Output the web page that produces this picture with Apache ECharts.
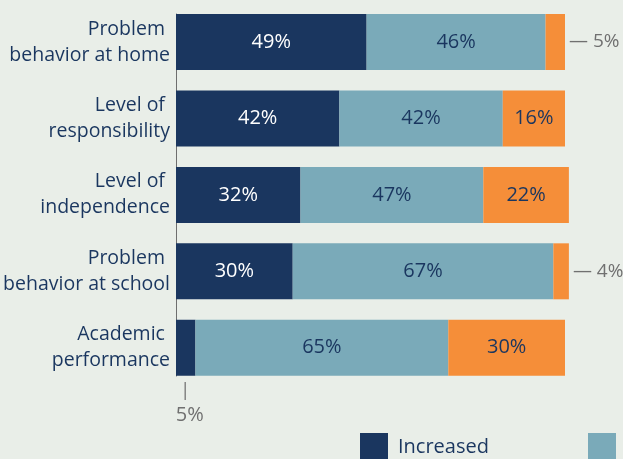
<!DOCTYPE html>
<html>
<head>
<meta charset="utf-8">
<script src="https://cdn.jsdelivr.net/npm/echarts@6/dist/echarts.min.js"></script>
<style>
  html, body { margin: 0; padding: 0; background: #e9eee8; }
  #chart { width: 623px; height: 459px; }
</style>
</head>
<body>
<div id="chart"></div>
<script>
// categories, top to bottom
const categories = [
  `Problem \nbehavior at home`,
  `Level of \nresponsibility`,
  `Level of \nindependence`,
  `Problem \nbehavior at school`,
  `Academic \nperformance`
];
const increased = [49, 42, 32, 30, 5];
const stayedSame = [46, 42, 47, 67, 65];
const decreased = [5, 16, 22, 4, 30];
const seriesNames = [`Increased`, `Stayed the same`, `Decreased`];

const navy = `#1a365f`;
const teal = `#7aaab9`;
const orange = `#f58e39`;
const grey = `#707070`;
const font = `"Open Sans", sans-serif`;

// small segments get their label outside the bar
function items(values, outside) {
  return values.map(function (v) {
    if (v >= 10) return v;
    return {value: v, label: outside};
  });
}

// one legend per item so each sits at its own place
const legendLeft = [360, 588, 816];
const legends = seriesNames.map(function (name, i) {
  return {
    data: [name],
    left: legendLeft[i],
    top: 433,
    padding: 0,
    icon: `rect`,
    itemWidth: 28,
    itemHeight: 28,
    textStyle: {color: navy, fontSize: 20, fontFamily: font, padding: [0, 0, 0, 5]}
  };
});

const chart = echarts.init(document.getElementById(`chart`));
const option = {
  backgroundColor: `#e9eee8`,
  animation: false,
  textStyle: {fontFamily: font},
  grid: [
    {left: 176, width: 389, top: 3.75, bottom: 73},
    // only there to draw the axis line between the bars
    {left: 176, width: 389, top: 14, height: 362}
  ],
  legend: legends,
  xAxis: [
    {type: `value`, min: 0, max: 100, show: false},
    {type: `value`, min: 0, max: 100, show: false, gridIndex: 1}
  ],
  yAxis: [
    {
      type: `category`,
      inverse: true,
      data: categories,
      axisLine: {show: false},
      axisTick: {show: false},
      axisLabel: {
        color: navy,
        fontSize: 19.5,
        fontFamily: font,
        lineHeight: 26,
        align: `right`,
        margin: 6
      }
    },
    {
      type: `category`,
      gridIndex: 1,
      inverse: true,
      data: categories,
      axisLine: {show: true, lineStyle: {color: `#6e6e6e`, width: 1}},
      axisTick: {show: false},
      axisLabel: {show: false}
    }
  ],
  series: [
    {
      name: seriesNames[0],
      type: `bar`,
      stack: `total`,
      barWidth: 56,
      clip: false,
      itemStyle: {color: navy},
      label: {show: true, position: `inside`, formatter: `{c}%`, color: `#ffffff`, fontSize: 20, fontFamily: font},
      data: items(increased, {
        show: true,
        position: `bottom`,
        distance: 6,
        offset: [4, 0],
        formatter: `{t||}\n{v|{c}%}`,
        rich: {
          t: {color: grey, fontSize: 18, lineHeight: 18, padding: [0, 9, 0, 0], fontFamily: font},
          v: {color: grey, fontSize: 20, lineHeight: 32, fontFamily: font}
        }
      })
    },
    {
      name: seriesNames[1],
      type: `bar`,
      stack: `total`,
      barWidth: 56,
      clip: false,
      itemStyle: {color: teal},
      label: {show: true, position: `inside`, formatter: `{c}%`, color: navy, fontSize: 20, fontFamily: font},
      data: items(stayedSame, {})
    },
    {
      name: seriesNames[2],
      type: `bar`,
      stack: `total`,
      barWidth: 56,
      clip: false,
      itemStyle: {color: orange},
      label: {show: true, position: `inside`, formatter: `{c}%`, color: navy, fontSize: 20, fontFamily: font},
      data: items(decreased, {
        show: true,
        position: `right`,
        distance: 4,
        formatter: `— {c}%`,
        color: grey,
        fontSize: 19,
        fontFamily: font
      })
    }
  ]
};
option && chart.setOption(option);
</script>
</body>
</html>
